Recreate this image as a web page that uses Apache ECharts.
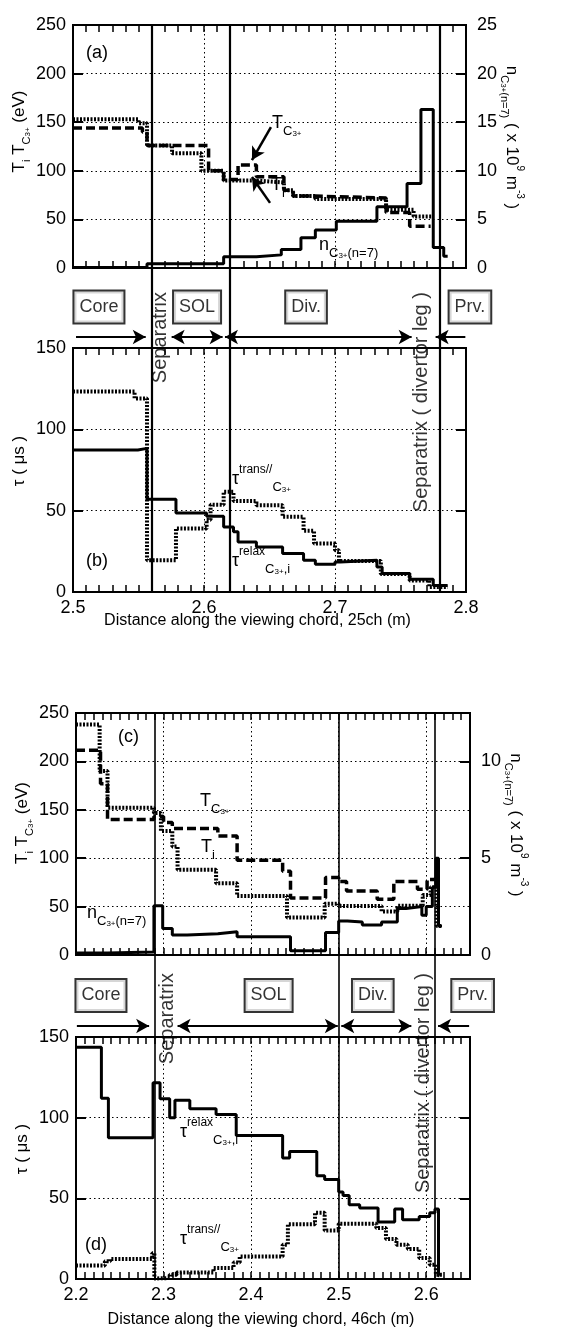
<!DOCTYPE html>
<html>
<head>
  <meta charset="utf-8">
</head>
<body style="margin: 0; width: 567px; height: 1334px; background: #fff;">
  <div id="main" style="width: 567px; height: 1334px;"></div>
  <script src="https://cdn.jsdelivr.net/npm/echarts@6/dist/echarts.min.js"></script>
  <script>
    // ---------- panel (a) : 25ch, temperatures and density ----------
    var tiEdgesA = [2.5, 2.550, 2.5565, 2.5756, 2.598, 2.615, 2.640, 2.661, 2.668, 2.685, 2.739, 2.760, 2.775];
    var tiValsA = [153, 149, 126, 118, 100, 90, 88, 80, 74, 71, 60, 53];
    var tcEdgesA = [2.5, 2.553, 2.5565, 2.6035, 2.615, 2.626, 2.640, 2.661, 2.668, 2.685, 2.739, 2.757, 2.773];
    var tcValsA = [144, 140, 126, 100, 91, 106, 94, 80, 74, 72, 57, 43];
    var nEdgesA = [2.5, 2.5565, 2.615, 2.640, 2.659, 2.674, 2.685, 2.701, 2.732, 2.755, 2.7656, 2.775, 2.783, 2.786];
    var nValsA = [0.05, 0.45, 1.15, 1.35, 1.9, 3.1, 3.9, 4.8, 6.3, 8.7, 16.3, 2.1, 1.2];

    // ---------- panel (b) : 25ch, time constants ----------
    var relaxEdgesB = [2.5, 2.5495, 2.5565, 2.5786, 2.602, 2.615, 2.6225, 2.626, 2.640, 2.660, 2.676, 2.685, 2.700, 2.704, 2.732, 2.736, 2.757, 2.775, 2.786];
    var relaxValsB = [87.3, 88.3, 57, 48.5, 46.6, 40, 37, 30.8, 27.7, 23.6, 19.5, 17, 18.5, 19.5, 15.4, 11.3, 7.8, 4];
    var transEdgesB = [2.5, 2.547, 2.5565, 2.5786, 2.602, 2.605, 2.615, 2.6225, 2.640, 2.660, 2.676, 2.684, 2.700, 2.703, 2.735, 2.757, 2.772, 2.786];
    var transValsB = [123.3, 119, 19.5, 39, 44.4, 53.6, 61.6, 56, 53.4, 46.2, 37.6, 29.8, 25.7, 19, 11, 7, 3];

    // ---------- panel (c) : 46ch, temperatures and density ----------
    var tiEdgesC = [2.2, 2.227, 2.236, 2.289, 2.297, 2.310, 2.316, 2.360, 2.384, 2.441, 2.484, 2.5, 2.549, 2.567, 2.596, 2.605, 2.612, 2.618];
    var tiValsC = [238, 190, 152, 146.6, 128, 112, 88, 74, 61, 38.7, 53, 50.7, 45, 51, 62, 70, 30];
    var tcEdgesC = [2.2, 2.228, 2.236, 2.289, 2.3, 2.31, 2.362, 2.384, 2.436, 2.445, 2.485, 2.5, 2.509, 2.544, 2.563, 2.590, 2.601, 2.609, 2.615];
    var tcValsC = [211.6, 177, 140, 143, 137, 130.8, 123, 98, 86.6, 59, 80, 76, 66, 57.5, 76, 68, 78, 80];
    var nEdgesC = [2.2, 2.236, 2.289, 2.299, 2.310, 2.327, 2.362, 2.384, 2.445, 2.485, 2.5, 2.51, 2.527, 2.549, 2.567, 2.577, 2.595, 2.600, 2.607, 2.611, 2.614, 2.618];
    var nValsC = [0.1, 0.15, 2.55, 1.37, 1.03, 1.1, 1.2, 0.94, 0.22, 1.16, 1.75, 1.7, 1.55, 1.7, 2.4, 2.5, 2.05, 2.5, 3.5, 5.0, 1.5];

    // ---------- panel (d) : 46ch, time constants ----------
    var relaxEdgesD = [2.2, 2.229, 2.237, 2.288, 2.296, 2.307, 2.313, 2.330, 2.360, 2.383, 2.436, 2.444, 2.475, 2.484, 2.5, 2.505, 2.512, 2.524, 2.545, 2.564, 2.573, 2.592, 2.604, 2.610, 2.614, 2.615];
    var relaxValsD = [143.6, 112, 87.6, 121.7, 111.8, 100, 110.8, 105.6, 101.9, 89, 75, 79, 64, 61.6, 54, 51.7, 46, 44, 35.3, 43.4, 36.8, 38.8, 41, 43.4, 2];
    var transEdgesD = [2.2, 2.233, 2.239, 2.287, 2.2895, 2.291, 2.307, 2.315, 2.357, 2.380, 2.387, 2.436, 2.442, 2.473, 2.484, 2.5, 2.543, 2.554, 2.566, 2.579, 2.592, 2.604, 2.611, 2.619];
    var transValsD = [8.3, 11, 12.4, 16, 0.3, 0.6, 2.7, 4, 6.8, 10.3, 14, 21.3, 34, 41, 30, 34.3, 31.6, 24.8, 21.3, 18.6, 13, 8.9, 2.7];

    // ---------- regions along the chord ----------
    var regionNames = ['Core', 'SOL', 'Div.', 'Prv.'];
    var arrowBoth = [false, true, true, false];
    var boundariesAB = [2.5565, 2.615, 2.776];
    var boxCentersAB = [2.5198, 2.5947, 2.6779, 2.803];
    var arrowFromAB = [2.5023, 2.5753, 2.6160, 2.7995];
    var arrowToAB = [2.5555, 2.6142, 2.7585, 2.7768];
    var boundariesCD = [2.290, 2.5, 2.612];
    var boxCentersCD = [2.2285, 2.420, 2.539, 2.653];
    var arrowFromCD = [2.201, 2.316, 2.503, 2.649];
    var arrowToCD = [2.2835, 2.499, 2.583, 2.6135];

    var FONT = 'Liberation Sans';
    var SOLID = { color: '#000', width: 3 };
    var DASH = { color: '#000', width: 3.5, type: [9, 4] };
    var DOT = { color: '#000', width: 4, type: [2, 1.5] };
    var GRIDLINE = { color: '#000', width: 1, type: [1.5, 3] };

    var nameRich = {
      b: { fontSize: 17, lineHeight: 26, verticalAlign: 'middle', fontFamily: FONT, color: '#000' },
      s: { fontSize: 11, lineHeight: 11, verticalAlign: 'bottom', fontFamily: FONT, color: '#000' },
      c: { fontSize: 8, lineHeight: 21, verticalAlign: 'bottom', fontFamily: FONT, color: '#000' },
      p: { fontSize: 10, lineHeight: 10, verticalAlign: 'top', fontFamily: FONT, color: '#000' }
    };
    var tempName = '{b|T}{s|i}{b| T}{s|C}{c|3+}{b| (eV)}';
    var densName = '{b|n}{s|C}{c|3+}{s|(n=7)}{b| ( x 10}{p|9}{b| m}{p|-3}{b| )}';
    var tauName = '{b|τ ( μs )}';

    function steps(edges, vals) {
      var d = [];
      for (var i = 0; i < vals.length; i++) d.push([edges[i], vals[i]]);
      d.push([edges[vals.length], vals[vals.length - 1]]);
      return d;
    }
    function blank() { return ''; }

    function xMain(g, min, max, showLabels, name, gap) {
      return {
        type: 'value', gridIndex: g, min: min, max: max, interval: 0.1, position: 'bottom',
        axisLine: { show: false, onZero: false }, axisTick: { show: false },
        axisLabel: {
          show: showLabels, color: '#000', fontSize: 18, fontFamily: FONT, margin: 7,
          formatter: function (v) {
            return Math.abs(v * 10 - Math.round(v * 10)) < 1e-6 ? v.toFixed(1) : '';
          }
        },
        splitLine: { show: true, lineStyle: GRIDLINE },
        name: name, nameLocation: 'middle', nameGap: gap, nameMoveOverlap: false,
        nameTextStyle: { color: '#000', fontSize: 16, fontFamily: FONT, padding: [0, 24, 0, 0] }
      };
    }
    // small inward ticks every 0.01 along top and bottom frame
    function xTicks(g, min, max, pos) {
      return {
        type: 'value', gridIndex: g, min: min, max: max, interval: 0.05, position: pos,
        axisLine: { show: false, onZero: false },
        axisLabel: { show: true, formatter: blank, fontSize: 8 },
        splitLine: { show: false },
        axisTick: { show: true, inside: true, length: 7, lineStyle: { color: '#000', width: 1.5 } },
        minorTick: { show: true, splitNumber: 5, length: 7, lineStyle: { color: '#000', width: 1.5 } },
        minorSplitLine: { show: false }
      };
    }
    function yAxisDef(g, pos, max, interval, showLabels, split, name, shift, fmt) {
      var left = pos === 'left';
      return {
        type: 'value', gridIndex: g, position: pos, min: 0, max: max, interval: interval,
        axisLine: { show: false, onZero: false },
        axisTick: { show: true, inside: true, length: 10, lineStyle: { color: '#000', width: 2 } },
        axisLabel: {
          show: true, color: '#000', fontSize: 18, fontFamily: FONT, margin: left ? 7 : 11,
          formatter: showLabels ? fmt : blank
        },
        splitLine: { show: split, lineStyle: GRIDLINE },
        name: name, nameLocation: 'middle', nameGap: left ? 41 : 33, nameMoveOverlap: false,
        nameRotate: left ? 90 : -90,
        nameTextStyle: { rich: nameRich, padding: left ? [0, 0, 0, shift || 0] : [0, shift || 0, 0, 0] }
      };
    }
    function hidden(g, min, max) {
      return { type: 'value', gridIndex: g, min: min, max: max, show: false };
    }

    function stepLine(xi, yi, edges, vals, style, z) {
      return {
        type: 'line', step: 'end', xAxisIndex: xi, yAxisIndex: yi, data: steps(edges, vals),
        showSymbol: false, symbol: 'none', lineStyle: style, silent: true, z: z, animation: false
      };
    }

    function overlay(xi, yi, bounds, centers, from, to, boxRow, arrowRow, textRow, lineW) {
      var lines = bounds.map(function (b) { return { xAxis: b }; });
      for (var i = 0; i < from.length; i++) {
        lines.push([
          { coord: [from[i], arrowRow], symbol: arrowBoth[i] ? 'arrow' : 'none', lineStyle: { width: 2 } },
          { coord: [to[i], arrowRow], symbol: 'arrow' }
        ]);
      }
      return [{
        type: 'scatter', xAxisIndex: xi, yAxisIndex: yi, clip: false, silent: true, symbolSize: 1,
        itemStyle: { color: 'rgba(0,0,0,0)' }, animation: false, z: 5,
        data: regionNames.map(function (n, i) { return { name: n, value: [centers[i], boxRow] }; }),
        label: {
          show: true, position: 'inside', formatter: '{b}', color: '#000', fontSize: 18, fontFamily: FONT,
          backgroundColor: '#fff', borderColor: '#000', borderWidth: 2, padding: [6, 5, 5, 5], lineHeight: 20
        },
        markLine: {
          silent: true, animation: false, symbol: ['none', 'none'], symbolSize: [11, 13],
          label: { show: false }, emphasis: { disabled: true },
          lineStyle: { color: '#000', width: lineW, type: 'solid' },
          data: lines
        }
      }, {
        type: 'scatter', xAxisIndex: xi, yAxisIndex: yi, clip: false, silent: true, symbolSize: 1,
        itemStyle: { color: 'rgba(0,0,0,0)' }, animation: false, z: 5,
        label: { show: true, position: 'inside', rotate: 90, formatter: '{b}', color: '#000', fontSize: 20, fontFamily: FONT },
        data: [
          { name: 'Separatrix', value: [bounds[0], textRow], label: { align: 'right', verticalAlign: 'top', padding: [3, 0, 0, 0] } },
          { name: 'Separatrix ( divertor leg )', value: [bounds[2], textRow], label: { align: 'right', verticalAlign: 'bottom', padding: [0, 0, 3, 0] } }
        ]
      }];
    }

    var xAxes = [
      xMain(0, 2.5, 2.8, false, '', 0), xTicks(0, 2.5, 2.8, 'bottom'), xTicks(0, 2.5, 2.8, 'top'),
      xMain(1, 2.5, 2.8, true, 'Distance along the viewing chord, 25ch (m)', 21), xTicks(1, 2.5, 2.8, 'bottom'), xTicks(1, 2.5, 2.8, 'top'),
      xMain(2, 2.2, 2.65, false, '', 0), xTicks(2, 2.2, 2.65, 'bottom'), xTicks(2, 2.2, 2.65, 'top'),
      xMain(3, 2.2, 2.65, true, 'Distance along the viewing chord, 46ch (m)', 33), xTicks(3, 2.2, 2.65, 'bottom'), xTicks(3, 2.2, 2.65, 'top'),
      hidden(4, 2.5, 2.8), hidden(5, 2.2, 2.65)
    ];
    var yAxes = [
      yAxisDef(0, 'left', 250, 50, true, true, tempName, 30),
      yAxisDef(0, 'right', 25, 5, true, false, densName, 18),
      yAxisDef(1, 'left', 150, 50, true, true, tauName, 18),
      yAxisDef(1, 'right', 150, 50, false, false, ''),
      yAxisDef(2, 'left', 250, 50, true, true, tempName, 22),
      yAxisDef(2, 'right', 12.5, 5, true, false, densName, 18, function (v) { return v % 5 === 0 ? v : ''; }),
      yAxisDef(3, 'left', 150, 50, true, true, tauName, 18),
      yAxisDef(3, 'right', 150, 50, false, false, ''),
      hidden(4, 0, 1), hidden(5, 0, 1)
    ];

    var tcA = stepLine(0, 0, tcEdgesA, tcValsA, DASH, 3);
    tcA.markLine = {
      silent: true, animation: false, symbol: ['none', 'arrow'], symbolSize: [11, 13],
      label: { show: false }, emphasis: { disabled: true },
      lineStyle: { color: '#000', width: 2.5, type: 'solid' },
      data: [
        [{ coord: [2.6511, 145] }, { coord: [2.6366, 111] }],
        [{ coord: [2.6504, 67] }, { coord: [2.6366, 93.6] }]
      ]
    };

    var series = [
      stepLine(0, 0, tiEdgesA, tiValsA, DOT, 2), tcA, stepLine(0, 1, nEdgesA, nValsA, SOLID, 4),
      stepLine(3, 2, transEdgesB, transValsB, DOT, 2), stepLine(3, 2, relaxEdgesB, relaxValsB, SOLID, 4),
      stepLine(6, 4, tiEdgesC, tiValsC, DOT, 2), stepLine(6, 4, tcEdgesC, tcValsC, DASH, 3), stepLine(6, 5, nEdgesC, nValsC, SOLID, 4),
      stepLine(9, 6, transEdgesD, transValsD, DOT, 2), stepLine(9, 6, relaxEdgesD, relaxValsD, SOLID, 4)
    ].concat(
      overlay(12, 8, boundariesAB, boxCentersAB, arrowFromAB, arrowToAB, 0.5026, 0.4497, 0.529, 2.2),
      overlay(13, 9, boundariesCD, boxCentersCD, arrowFromCD, arrowToCD, 0.5009, 0.447, 0.5406, 1.6)
    );

    // text annotations inside the panels
    var rich = {
      b: { fontSize: 18, fontFamily: FONT, lineHeight: 30, verticalAlign: 'middle', fill: '#000' },
      up: { fontSize: 12, fontFamily: FONT, lineHeight: 12, verticalAlign: 'top', fill: '#000' },
      dn: { fontSize: 13, fontFamily: FONT, lineHeight: 13, verticalAlign: 'bottom', fill: '#000' },
      ch: { fontSize: 8, fontFamily: FONT, lineHeight: 24, verticalAlign: 'bottom', fill: '#000' }
    };
    function note(left, top, text) {
      return { type: 'text', left: left, top: top, silent: true, z: 10, style: { text: text, rich: rich, fill: '#000', font: '18px ' + FONT } };
    }
    var tC = '{b|T}{dn|C}{ch|3+}';
    var tI = '{b|T}{dn|i}';
    var nLab = '{b|n}{dn|C}{ch|3+}{dn|(n=7)}';
    var relaxLab = '{b|τ}{up|relax}{dn|C}{ch|3+}{dn|,i}';
    var transLab = '{b|τ}{up|trans//}{dn|C}{ch|3+}';

    var option = {
      animation: false,
      backgroundColor: '#fff',
      textStyle: { fontFamily: FONT },
      grid: [
        { left: 73, right: 101, top: 25, height: 243, show: true, borderColor: '#000', borderWidth: 2, backgroundColor: 'transparent' },
        { left: 73, right: 101, top: 348, height: 244, show: true, borderColor: '#000', borderWidth: 2, backgroundColor: 'transparent' },
        { left: 76, right: 97, top: 713, height: 242, show: true, borderColor: '#000', borderWidth: 2, backgroundColor: 'transparent' },
        { left: 76, right: 97, top: 1037, height: 242, show: true, borderColor: '#000', borderWidth: 2, backgroundColor: 'transparent' },
        { left: 73, right: 101, top: 25, height: 567 },
        { left: 76, right: 97, top: 713, height: 566 }
      ],
      xAxis: xAxes,
      yAxis: yAxes,
      series: series,
      graphic: [
        note(86, 44, '{b|(a)}'),
        note(272, 114, tC),
        note(271, 176, tI),
        note(319, 236, nLab),
        note(86, 552, '{b|(b)}'),
        note(232, 464, transLab),
        note(232, 546, relaxLab),
        note(118, 728, '{b|(c)}'),
        note(200, 792, tC),
        note(201, 838, tI),
        note(87, 904, nLab),
        note(85, 1236, '{b|(d)}'),
        note(180, 1117, relaxLab),
        note(180, 1224, transLab)
      ]
    };

    var chart = echarts.init(document.getElementById('main'), null, { renderer: 'canvas' });
    chart.setOption(option);
  </script>
</body>
</html>
